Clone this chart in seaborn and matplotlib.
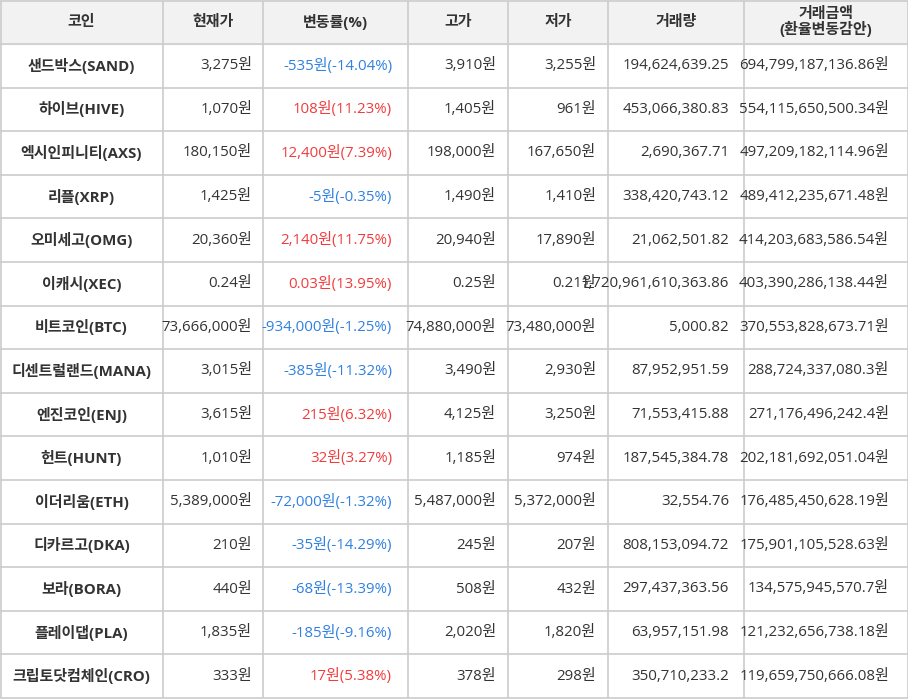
import matplotlib
matplotlib.use("Agg")
import matplotlib.pyplot as plt
import seaborn as sns

sns.set_theme(style="white")
plt.rcParams['font.family'] = ['Open Sans', 'Noto Sans CJK KR', 'DejaVu Sans']

headers = ["코인", "현재가", "변동률(%)", "고가", "저가", "거래량", "거래금액\n(환율변동감안)"]
coins = ["샌드박스(SAND)", "하이브(HIVE)", "엑시인피니티(AXS)", "리플(XRP)", "오미세고(OMG)",
         "이캐시(XEC)", "비트코인(BTC)", "디센트럴랜드(MANA)", "엔진코인(ENJ)", "헌트(HUNT)",
         "이더리움(ETH)", "디카르고(DKA)", "보라(BORA)", "플레이댑(PLA)", "크립토닷컴체인(CRO)"]
price = ["3,275원", "1,070원", "180,150원", "1,425원", "20,360원", "0.24원", "73,666,000원",
         "3,015원", "3,615원", "1,010원", "5,389,000원", "210원", "440원", "1,835원", "333원"]
change = ["-535원(-14.04%)", "108원(11.23%)", "12,400원(7.39%)", "-5원(-0.35%)", "2,140원(11.75%)",
          "0.03원(13.95%)", "-934,000원(-1.25%)", "-385원(-11.32%)", "215원(6.32%)", "32원(3.27%)",
          "-72,000원(-1.32%)", "-35원(-14.29%)", "-68원(-13.39%)", "-185원(-9.16%)", "17원(5.38%)"]
high = ["3,910원", "1,405원", "198,000원", "1,490원", "20,940원", "0.25원", "74,880,000원",
        "3,490원", "4,125원", "1,185원", "5,487,000원", "245원", "508원", "2,020원", "378원"]
low = ["3,255원", "961원", "167,650원", "1,410원", "17,890원", "0.21원", "73,480,000원",
       "2,930원", "3,250원", "974원", "5,372,000원", "207원", "432원", "1,820원", "298원"]
volume = ["194,624,639.25", "453,066,380.83", "2,690,367.71", "338,420,743.12", "21,062,501.82",
          "1,720,961,610,363.86", "5,000.82", "87,952,951.59", "71,553,415.88", "187,545,384.78",
          "32,554.76", "808,153,094.72", "297,437,363.56", "63,957,151.98", "350,710,233.2"]
amount = ["694,799,187,136.86원", "554,115,650,500.34원", "497,209,182,114.96원", "489,412,235,671.48원",
          "414,203,683,586.54원", "403,390,286,138.44원", "370,553,828,673.71원", "288,724,337,080.3원",
          "271,176,496,242.4원", "202,181,692,051.04원", "176,485,450,628.19원", "175,901,105,528.63원",
          "134,575,945,570.7원", "121,232,656,738.18원", "119,659,750,666.08원"]

# layout (pixels)
col_edges = [0, 163, 263, 408, 508, 608, 744, 908]
right_pad = [0, 11, 16, 12, 12, 15, 19]
header_h = 44
row_h = 43.6
fs = 10.8
text_c = "#333333"
red = "#f03c3c"
blue = "#2f80e0"
line_c = "#cccccc"

fig = plt.figure(figsize=(9.08, 7.0), dpi=100)
ax = fig.add_axes([0, 0, 1, 1])
ax.set_xlim(0, 908)
ax.set_ylim(700, 0)
ax.axis("off")

n = len(coins)
bottom = header_h + n * row_h
ax.fill_between([0, 908], 0, header_h, color="#f2f2f2", zorder=0)
ys = [1, header_h] + [header_h + (i + 1) * row_h for i in range(n)]
ax.hlines(ys, 0, 908, color=line_c, lw=1.2, zorder=1)
ax.vlines(col_edges[1:-1], 1, bottom, color=line_c, lw=1.2, zorder=1)
ax.vlines([0.5, 907.5], 1, bottom, color=line_c, lw=1.2, zorder=1)

for j, h in enumerate(headers):
    x = (col_edges[j] + col_edges[j + 1]) / 2
    ax.text(x, header_h / 2, h, ha="center", va="center", fontsize=fs,
            fontweight="bold", color=text_c, linespacing=1.0)

cols = [price, change, high, low, volume, amount]
for i in range(n):
    yc = header_h + (i + 0.5) * row_h
    ax.text((col_edges[0] + col_edges[1]) / 2, yc, coins[i], ha="center", va="center",
            fontsize=fs, fontweight="bold", color=text_c)
    for k, vals in enumerate(cols):
        j = k + 1
        c = text_c
        if k == 1:
            c = blue if vals[i].startswith("-") else red
        ax.text(col_edges[j + 1] - right_pad[j], yc, vals[i], ha="right", va="center",
                fontsize=fs, color=c)

fig.savefig("out.png", dpi=100)
